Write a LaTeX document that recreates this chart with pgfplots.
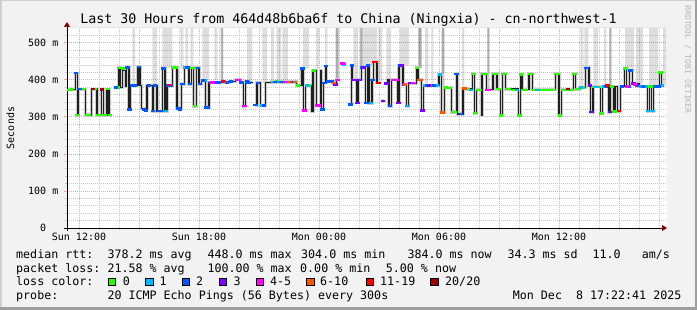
\documentclass[border=0pt]{standalone}
\usepackage{pgfplots}
\usepackage{pgfplotstable}
\pgfplotsset{compat=1.18}
\usepackage{fontspec}
\setmainfont{DejaVu Sans Mono}
\usetikzlibrary{arrows.meta}
\definecolor{bgc}{HTML}{F2F2F2}
\definecolor{shadea}{HTML}{D0D0D0}
\definecolor{shadeb}{HTML}{9E9E9E}
\definecolor{gridc}{HTML}{C8C8C8}
\definecolor{mgridc}{HTML}{F2A0A0}
\definecolor{arrowc}{HTML}{7F0000}
\definecolor{lc0}{HTML}{26FF00}
\definecolor{lc1}{HTML}{00B8FF}
\definecolor{lc2}{HTML}{0059FF}
\definecolor{lc3}{HTML}{7E00FF}
\definecolor{lc4}{HTML}{FF00FF}
\definecolor{lc6}{HTML}{FF5500}
\definecolor{lc11}{HTML}{FF0000}
\definecolor{lc20}{HTML}{A10000}

\pgfplotstableread{
t v
11.45 373
11.83 418
11.92 305
11.95 375
12.33 305
12.62 375
12.90 305
13.12 374
13.23 305
13.40 375
13.50 305
13.62 305
13.62 nan
13.83 380
14.00 432
14.07 380
14.17 430
14.23 425
14.33 382
14.38 434
14.50 320
14.58 384
14.95 435
15.05 384
15.13 322
15.40 384
15.67 316
15.73 384
15.90 316
16.17 430
16.30 316
16.40 384
16.67 433
16.90 325
17.12 389
17.28 433
17.50 389
17.62 432
17.73 329
17.87 432
18.00 389
18.12 398
18.32 326
18.50 393
19.53 396
19.83 400
20.07 393
20.23 329
20.33 396
20.53 392
20.70 392
20.70 nan
20.78 332
20.90 392
21.07 330
21.33 392
21.62 394
22.87 385
23.15 430
23.23 317
23.33 384
23.62 316
23.70 425
23.87 330
24.07 425
24.12 320
24.23 392
24.32 437
24.37 395
24.70 390
24.87 400
25.03 400
25.03 nan
25.13 444
25.33 444
25.33 nan
25.53 334
25.62 439
25.67 400
25.90 338
25.98 400
26.12 433
26.33 338
26.42 439
26.50 337
26.65 400
26.73 448
26.90 392
27.07 392
27.07 nan
27.17 343
27.27 343
27.27 nan
27.33 390
27.45 400
27.50 329
27.62 400
27.95 338
28.00 439
28.20 387
28.37 329
28.48 391
28.87 432
28.95 400
29.12 317
29.23 384
30.00 414
30.12 312
30.28 380
30.62 313
30.87 416
30.92 308
31.20 375
31.67 416
31.78 310
31.87 373
32.12 304
32.15 416
32.37 373
32.70 416
32.90 375
33.07 304
33.17 416
33.33 375
33.98 304
34.08 414
34.15 373
34.50 416
34.67 373
35.83 416
36.00 304
36.12 373
36.73 416
36.83 375
37.03 380
37.33 432
37.50 384
37.58 313
37.70 381
38.08 309
38.17 382
38.50 313
38.58 382
38.75 315
38.83 382
38.92 316
39.07 382
39.28 430
39.37 382
39.53 425
39.67 390
40.00 382
40.42 316
40.53 382
40.62 316
40.73 382
41.03 420
41.12 384
41.20 384
}\median

\begin{document}
\begin{tikzpicture}[x=1pt,y=1pt]
\useasboundingbox (0,0) rectangle (697,310);
\fill[bgc] (0,0) rectangle (697,310);
\fill[shadea] (0,0) rectangle (1.5,310);
\fill[shadea] (0,308.5) rectangle (697,310);
\fill[shadeb] (694.5,0) rectangle (697,310);
\fill[shadeb] (0,0) rectangle (697,2.5);

\begin{axis}[
  at={(67pt,82pt)}, anchor=south west, scale only axis,
  width=600pt, height=200pt,
  xmin=11.4, xmax=41.4, ymin=0, ymax=540,
  axis background/.style={fill=white},
  axis lines=left,
  x axis line style={black, line width=0.7pt, -{Triangle[length=5pt,width=6pt,color=arrowc]}, shorten <=-3pt},
  y axis line style={black, line width=0.7pt, -{Triangle[length=5pt,width=6pt,color=arrowc]}, shorten >=-6pt, shorten <=-3pt},
  unbounded coords=jump,
  xtick={12,15,...,39},
  xticklabels={Sun 12:00,,Sun 18:00,,Mon 00:00,,Mon 06:00,,Mon 12:00,},
  minor xtick={13,14,16,17,19,20,22,23,25,26,28,29,31,32,34,35,37,38,40,41},
  ytick={0,100,...,500},
  yticklabels={0\hphantom{~m},100 m,200 m,300 m,400 m,500 m},
  minor ytick={20,40,60,80,120,140,160,180,220,240,260,280,320,340,360,380,420,440,460,480,520},
  grid=both,
  major grid style={mgridc, dash pattern=on 1pt off 1pt, line width=0.8pt},
  minor grid style={gridc, dash pattern=on 1pt off 1pt, line width=0.8pt},
  tick align=outside,
  major tick length=2.5pt, minor tick length=2pt,
  major tick style={mgridc, line width=0.8pt},
  minor tick style={gridc, line width=0.8pt},
  ticklabel style={font=\fontsize{10}{12}\selectfont, inner sep=0pt},
  xticklabel style={anchor=base, yshift=-10pt},
  yticklabel style={anchor=east, xshift=-6pt},
]
% tall smoke bars (light)
\addplot[const plot, draw=none, fill=black, fill opacity=0.13] coordinates {
(11.4,540)
(14.67,385) (14.80,540)
(15.67,388) (15.90,540)
(16.17,432) (16.67,540)
(17.07,430) (17.22,540)
(17.32,432) (17.45,540)
(17.57,432) (17.72,540)
(18.17,400) (18.50,540)
(18.77,400) (18.92,540)
(19.07,400) (19.20,540)
(20.40,398) (20.67,540)
(21.17,392) (21.40,540)
(21.60,396) (21.75,540)
(21.87,396) (22.10,540)
(22.17,396) (22.45,540)
(23.20,430) (23.50,540)
(23.85,428) (24.00,540)
(24.30,438) (24.42,540)
(24.82,402) (25.00,540)
(25.72,402) (25.95,540)
(26.05,438) (26.90,540)
(26.97,395) (27.17,540)
(27.37,402) (27.60,540)
(28.05,440) (28.50,540)
(28.97,432) (29.15,540)
(29.30,390) (29.47,540)
(29.62,390) (29.72,540)
(30.12,418) (30.27,540)
(31.15,380) (31.27,540)
(32.42,418) (32.52,540)
(37.07,383) (37.22,540)
(37.27,432) (37.47,540)
(37.72,385) (37.95,540)
(38.25,385) (38.37,540)
(38.52,385) (38.62,540)
(39.30,430) (39.75,540)
(39.85,392) (40.20,540)
(40.50,384) (40.95,540)
(41.20,384) (41.37,540)
(41.4,540)};
% darker strips
\addplot[const plot, draw=none, fill=black, fill opacity=0.22] coordinates {
(11.4,540)
(19.12,395) (19.20,540)
(24.85,400) (24.97,540)
(26.07,433) (26.17,540)
(28.97,432) (29.12,540)
(30.15,316) (30.27,540)
(32.42,373) (32.52,540)
(38.52,313) (38.62,540)
(41.4,540)};
% smoke around median
\addplot[const plot, black!20, line width=3.2pt] table[x=t,y=v]{\median};
% median
\addplot[const plot, black!88, line width=1.3pt] table[x=t,y=v]{\median};
% loss-coloured median marks
\addplot[only marks, mark=-, mark size=2.2pt, mark options={line width=2.6pt, lc0}] coordinates {
(11.52,373) (11.66,374) (11.93,305) (12.12,375) (12.25,375) (12.40,305) (12.50,305) (12.80,375) (12.97,305) (13.05,305) (13.27,305) (13.45,375) (13.55,305) (13.95,380) (14.00,432) (14.20,430) (16.72,433) (16.82,433) (17.67,432) (17.80,329) (21.90,396) (22.95,385) (23.50,384) (23.75,425) (28.90,432) (30.35,380) (30.45,378) (30.55,378) (30.70,313) (30.80,313) (31.35,375) (31.45,375) (31.72,416) (31.82,310) (31.95,373) (32.05,373) (32.22,416) (32.32,416) (32.75,416) (32.85,416) (32.97,375) (33.10,304) (33.22,416) (33.30,416) (33.40,375) (33.50,375) (33.75,373) (34.03,304) (34.11,414) (34.20,373) (34.35,373) (34.55,416) (34.62,416) (34.72,373) (34.85,373) (35.10,373) (35.20,373) (35.40,373) (35.50,373) (35.60,373) (35.72,373) (35.88,416) (35.95,416) (36.05,304) (36.20,373) (36.30,373) (36.55,373) (36.65,373) (36.78,416) (36.90,375) (36.98,375) (37.20,380) (37.78,381) (37.98,381) (38.12,309) (38.65,382) (38.78,315) (38.95,316) (39.32,430) (40.57,382) (41.07,420)};
\addplot[only marks, mark=-, mark size=2.2pt, mark options={line width=2.6pt, lc1}] coordinates {
(16.33,316) (17.32,433) (17.90,432) (18.27,398) (21.15,330) (21.70,394) (22.00,394) (23.40,384) (24.55,395) (25.25,442) (26.57,337) (28.42,329) (29.30,384) (29.60,384) (29.90,384) (30.05,414) (31.60,373) (33.90,373) (34.93,373) (37.10,380) (37.88,381) (38.25,382) (40.10,382) (40.32,382) (40.45,316) (40.67,316) (40.90,382) (41.15,384)};
\addplot[only marks, mark=-, mark size=2.2pt, mark options={line width=2.6pt, lc2}] coordinates {
(11.85,418) (12.02,375) (13.85,380) (14.42,434) (14.53,320) (14.65,384) (14.80,384) (15.00,435) (15.25,320) (15.35,318) (15.50,384) (15.70,316) (15.80,384) (16.00,316) (16.10,316) (16.22,430) (16.45,384) (16.60,384) (16.98,322) (17.05,320) (17.18,389) (17.42,433) (17.55,389) (17.95,432) (18.05,389) (18.20,398) (18.38,326) (18.45,326) (18.85,393) (19.00,393) (19.40,393) (19.60,396) (20.12,393) (20.40,396) (20.48,392) (20.82,332) (20.95,392) (21.25,330) (21.80,394) (22.10,394) (22.60,394) (23.18,430) (24.17,320) (24.27,392) (24.35,437) (24.45,395) (24.65,395) (25.57,334) (25.64,439) (26.17,433) (26.37,338) (26.45,439) (26.68,400) (26.85,448) (27.55,329) (28.05,439) (29.40,384) (29.75,384) (30.88,416) (31.10,308) (32.40,373) (37.38,432) (38.35,382) (39.15,382) (39.48,382) (39.58,425) (39.90,384) (40.20,382) (40.80,382) (40.98,382)};
\addplot[only marks, mark=-, mark size=2.2pt, mark options={line width=2.6pt, lc3}] coordinates {
(24.82,388) (25.72,400) (25.82,400) (25.93,338) (26.05,400) (26.25,433) (27.20,343) (27.38,390) (27.97,338) (28.12,439) (28.25,387) (28.55,391) (29.17,317) (29.50,384) (37.54,384) (37.62,313) (38.54,313) (39.72,390)};
\addplot[only marks, mark=-, mark size=2.2pt, mark options={line width=2.6pt, lc4}] coordinates {
(18.60,393) (18.70,393) (19.90,400) (19.98,400) (20.28,329) (22.30,394) (23.28,317) (23.92,330) (24.00,330) (24.93,400) (25.18,444) (27.70,400) (27.80,400) (27.88,400) (28.70,391) (32.47,373) (39.42,382) (39.80,388)};
\addplot[only marks, mark=-, mark size=2.2pt, mark options={line width=2.6pt, lc6}] coordinates {
(19.25,395) (22.50,394) (22.80,394) (24.75,392) (28.30,388) (29.00,400) (29.07,400) (30.17,312) (31.27,376)};
\addplot[only marks, mark=-, mark size=2.2pt, mark options={line width=2.6pt, lc11}] coordinates {
(16.50,386) (19.20,395) (26.78,448) (26.97,392) (38.43,384) (39.00,316)};
\addplot[only marks, mark=-, mark size=2.2pt, mark options={line width=2.6pt, lc20}] coordinates {
(12.70,375) (13.15,374) (36.45,375)};
\end{axis}

% title and side texts
\node[anchor=base, inner sep=0pt, font=\fontsize{13.3}{15}\selectfont] at (348.5,286) {Last 30 Hours from 464d48b6ba6f to China (Ningxia) - cn-northwest-1};
\node[rotate=90, inner sep=0pt, font=\fontsize{10}{12}\selectfont] at (10.5,182) {Seconds};
\node[rotate=-90, anchor=base west, inner sep=0pt, text=black!28, font=\fontsize{8.2}{10}\selectfont] at (685,305) {RRDTOOL / TOBI OETIKER};

% legend
\begin{scope}[every node/.style={anchor=base west, inner sep=0pt, font=\fontsize{11.66}{14}\selectfont}]
\node at (16,51.5) {median rtt:};
\node at (107.3,51.5) {378.2 ms avg};
\node at (207.3,51.5) {448.0 ms max};
\node at (301,51.5) {304.0 ms min};
\node at (407.3,51.5) {384.0 ms now};
\node at (507.3,51.5) {34.3 ms sd};
\node at (592.3,51.5) {11.0};
\node at (641.7,51.5) {am/s};
\node at (16,37.5) {packet loss:};
\node at (107.3,37.5) {21.58 \% avg};
\node at (207.3,37.5) {100.00 \% max};
\node at (300,37.5) {0.00 \% min};
\node at (385.7,37.5) {5.00 \% now};
\node at (16,24) {loss color:};
\node at (122.7,24) {0};
\node at (159.3,24) {1};
\node at (196,24) {2};
\node at (233.3,24) {3};
\node at (270,24) {4-5};
\node at (320,24) {6-10};
\node at (380,24) {11-19};
\node at (445,24) {20/20};
\node at (16,10) {probe:};
\node at (107.3,10) {20 ICMP Echo Pings (56 Bytes) every 300s};
\node at (512.7,10) {Mon Dec\ \ 8 17:22:41 2025};
\end{scope}
\foreach \xx/\cc in {108/lc0,145.7/lc1,182.3/lc2,219.3/lc3,256/lc4,306.7/lc6,366/lc11,430.7/lc20}{
  \filldraw[fill=\cc, draw=black, line width=0.8pt] (\xx,24.2) rectangle ++(7.5,7.5);
}
\end{tikzpicture}
\end{document}
